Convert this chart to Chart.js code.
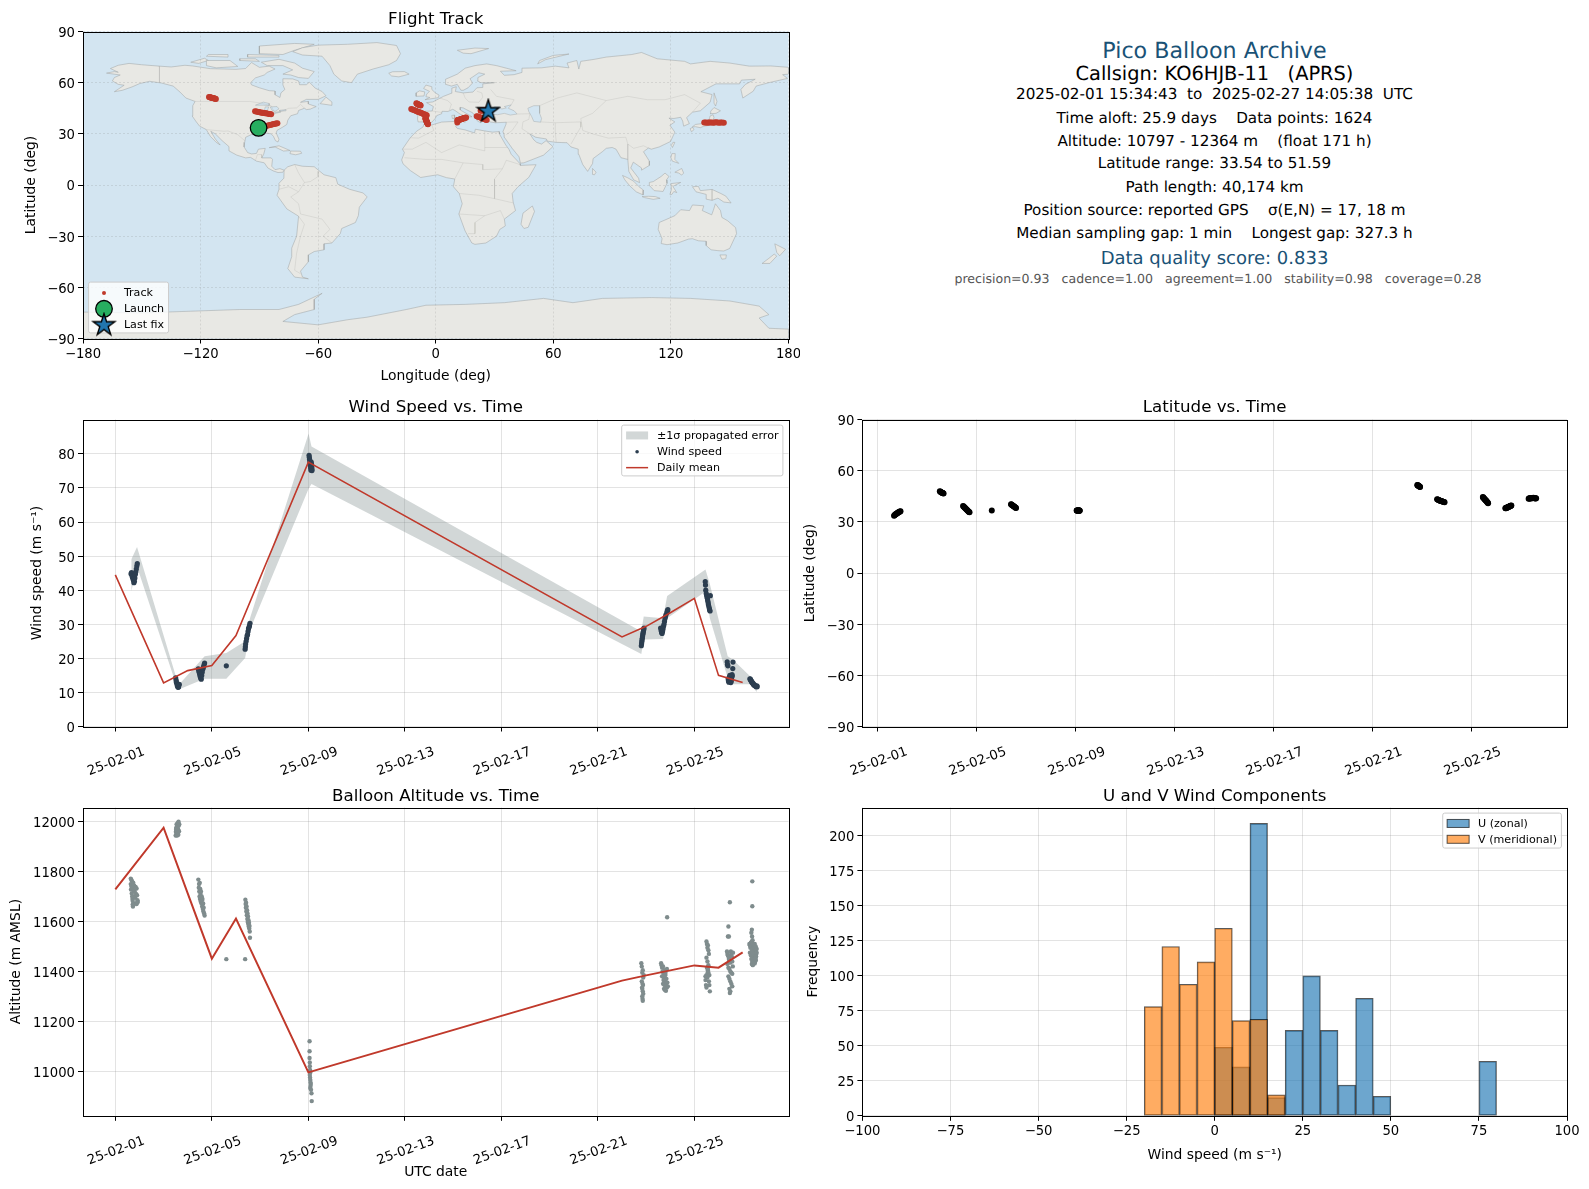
<!DOCTYPE html>
<html>
<head>
<meta charset="utf-8">
<title>Pico Balloon Archive</title>
<script src="https://cdn.jsdelivr.net/npm/chart.js@4/dist/chart.umd.js"></script>
<style>
  html, body { margin: 0; padding: 0; background: #fff; }
  #page { position: relative; width: 1589px; height: 1189px; overflow: hidden; font-family: 'DejaVu Sans', sans-serif; text-rendering: geometricPrecision; }
  canvas { position: absolute; }
  .info { position: absolute; width: 800px; text-align: center; white-space: pre; transform: translateY(-50%); }
</style>
</head>
<body>
<div id="page">
  <canvas id="trackChart" width="800" height="388" style="left:0;top:0"></canvas>
  <canvas id="windChart" width="800" height="388" style="left:0;top:388px"></canvas>
  <canvas id="latChart" width="789" height="388" style="left:800px;top:388px"></canvas>
  <canvas id="altChart" width="800" height="413" style="left:0;top:776px"></canvas>
  <canvas id="histChart" width="789" height="413" style="left:800px;top:776px"></canvas>
</div>
<script>
// summary panel
const infoLines = [
  'Pico Balloon Archive',
  'Callsign: KO6HJB-11   (APRS)',
  '2025-02-01 15:34:43  to  2025-02-27 14:05:38  UTC',
  'Time aloft: 25.9 days    Data points: 1624',
  'Altitude: 10797 - 12364 m    (float 171 h)',
  'Latitude range: 33.54 to 51.59',
  'Path length: 40,174 km',
  'Position source: reported GPS    σ(E,N) = 17, 18 m',
  'Median sampling gap: 1 min    Longest gap: 327.3 h',
  'Data quality score: 0.833',
  'precision=0.93   cadence=1.00   agreement=1.00   stability=0.98   coverage=0.28',
];
const infoY = [50.7, 73, 94.2, 117.6, 140.9, 163.2, 186.5, 209.8, 233, 258.2, 277.7];
const infoSize = [22.2, 19.4, 15.2, 15.2, 15.2, 15.2, 15.2, 15.2, 15.2, 18, 12.57];
const infoColor = ['#1a5276', '#000', '#000', '#000', '#000', '#000', '#000', '#000', '#000', '#1a5276', '#555'];
const infoLeft = [814.5, 814.5, 814.5, 814.5, 814.5, 814.5, 814.5, 814.5, 814.5, 814.5, 818];

// time axis, days since 2025-02-01 00:00 UTC
const dateTicks = [0, 4, 8, 12, 16, 20, 24];
const dateLabels = ['25-02-01', '25-02-05', '25-02-09', '25-02-13', '25-02-17', '25-02-21', '25-02-25'];

// observations, one line per burst of reports
const obsDays = [
  0.65, 0.67, 0.69, 0.71, 0.73, 0.75, 0.77, 0.79, 0.81, 0.83, 0.85, 0.87, 0.89, 0.91,
  2.50, 2.52, 2.53, 2.55, 2.57, 2.58, 2.60, 2.62, 2.63, 2.65,
  3.44, 3.46, 3.48, 3.50, 3.52, 3.54, 3.56, 3.58, 3.60, 3.62, 3.64, 3.66, 3.68, 3.70,
  4.60,
  5.38, 5.39, 5.40, 5.42, 5.44, 5.46, 5.48, 5.50, 5.52, 5.54, 5.56, 5.58,
  8.03, 8.04, 8.05, 8.06, 8.07, 8.08, 8.09, 8.10, 8.11, 8.12, 8.13, 8.14, 8.15, 8.15,
  21.80, 21.81, 21.82, 21.83, 21.84, 21.85, 21.86, 21.87, 21.88, 21.89, 21.90, 21.91,
  22.60, 22.62, 22.64, 22.66, 22.68, 22.70, 22.72, 22.74, 22.76, 22.78, 22.80, 22.82, 22.86, 22.88, 22.90,
  24.45, 24.46, 24.47, 24.49, 24.51, 24.52, 24.54, 24.55, 24.57, 24.58, 24.60, 24.62, 24.63, 24.65, 24.66,
  25.36, 25.37, 25.39, 25.40, 25.41, 25.43, 25.44, 25.45, 25.47, 25.48, 25.50, 25.51, 25.53, 25.54, 25.56, 25.57, 25.59, 25.60,
  26.30, 26.32, 26.33, 26.35, 26.37, 26.38, 26.40, 26.42, 26.44, 26.45, 26.47, 26.49, 26.51, 26.53, 26.55, 26.57, 26.59, 26.60,
];
const obsWind = [
  44.8, 45.2, 44.3, 43.8, 43.4, 42.9, 42.2, 42.6, 43.6, 44.7, 45.4, 46.2, 47.1, 47.8,
  14.3, 13.6, 13.0, 12.6, 12.1, 11.8, 11.5, 11.6, 12.0, 12.4,
  16.9, 16.3, 15.8, 15.2, 14.6, 14.2, 13.9, 15.0, 15.9, 16.7, 17.2, 17.6, 18.2, 18.6,
  17.8,
  22.7, 23.4, 24.2, 25.0, 25.8, 26.6, 27.0, 27.9, 28.7, 29.1, 29.6, 30.3,
  79.6, 79.0, 78.4, 78.0, 77.4, 76.9, 76.4, 75.8, 75.2, 77.6, 77.0, 76.2, 75.6, 75.1,
  23.7, 24.3, 24.9, 25.4, 25.9, 26.4, 26.9, 27.3, 27.7, 28.1, 28.5, 28.9,
  28.9, 28.2, 27.6, 27.3, 27.9, 28.6, 29.4, 30.0, 30.8, 31.6, 32.2, 32.8, 33.4, 34.0, 34.3,
  42.5, 41.5, 40.0, 39.0, 38.5, 38.0, 37.6, 37.0, 36.4, 35.8, 35.2, 34.6, 34.2, 33.9, 38.4,
  19.0, 18.2, 17.8, 14.0, 13.4, 13.0, 13.2, 14.5, 15.0, 13.6, 13.1, 12.9, 13.4, 14.2, 15.2, 14.8, 17.0, 18.9,
  14.0, 13.9, 13.6, 13.5, 13.2, 13.0, 12.9, 12.7, 12.5, 12.4, 12.2, 12.1, 12.0, 11.9, 11.8, 11.7, 11.9, 11.7,
];
const obsLat = [
  33.6, 33.9, 34.1, 34.4, 34.6, 34.8, 35.0, 35.2, 35.4, 35.6, 35.7, 35.9, 36.0, 36.2,
  47.9, 47.7, 47.6, 47.4, 47.2, 47.1, 47.0, 46.9, 46.8, 46.6,
  39.3, 39.0, 38.7, 38.4, 38.1, 37.8, 37.5, 37.2, 36.9, 36.6, 36.3, 36.0, 35.8, 35.6,
  36.7,
  40.3, 40.2, 40.0, 39.8, 39.6, 39.4, 39.2, 39.0, 38.8, 38.5, 38.3, 38.1,
  36.6, 36.7, 36.5, 36.6, 36.7, 36.6, 36.5, 36.6, 36.8, 36.6, 36.5, 36.7, 36.6, 36.5,
  51.6, 51.5, 51.4, 51.3, 51.2, 51.1, 51.0, 50.9, 50.8, 50.7, 50.6, 50.4,
  43.2, 43.1, 42.9, 42.8, 42.7, 42.5, 42.4, 42.3, 42.2, 42.1, 42.0, 41.9, 41.7, 41.6, 41.5,
  44.6, 44.3, 44.1, 43.8, 43.5, 43.3, 43.0, 42.8, 42.5, 42.3, 42.0, 41.7, 41.5, 41.2, 40.9,
  38.0, 38.1, 38.0, 38.2, 38.3, 38.3, 38.5, 38.6, 38.6, 38.8, 38.9, 38.9, 39.1, 39.2, 39.3, 39.4, 39.5, 39.6,
  43.6, 43.7, 43.8, 43.7, 43.8, 43.9, 43.8, 43.9, 44.0, 43.9, 44.0, 44.1, 44.0, 43.9, 43.8, 43.9, 43.7, 43.8,
];
const obsLon = [
  -90.0, -89.2, -88.4, -87.6, -86.8, -86.0, -85.2, -84.6, -83.9, -83.2, -82.6, -82.0, -81.4, -80.8,
  -9.9, -9.6, -9.4, -9.2, -8.9, -8.7, -8.4, -8.2, -8.0, -7.7,
  -5.3, -5.2, -5.2, -5.0, -4.9, -4.9, -4.7, -4.6, -4.6, -4.4, -4.3, -4.2, -4.1, -4.0,
  11.0,
  20.9, 21.3, 21.8, 22.2, 22.7, 23.2, 23.6, 24.1, 24.6, 25.0, 25.5, 26.0,
  137.0, 137.8, 138.5, 139.3, 140.0, 140.8, 141.6, 142.3, 143.0, 143.8, 144.6, 145.3, 146.1, 147.0,
  -115.7, -115.4, -115.1, -114.8, -114.5, -114.2, -113.9, -113.5, -113.2, -112.8, -112.5, -112.2,
  -92.2, -91.6, -91.0, -90.4, -89.9, -89.3, -88.7, -88.2, -87.7, -87.1, -86.6, -86.0, -85.2, -84.6, -84.0,
  -12.5, -12.0, -11.4, -10.8, -10.2, -9.7, -9.2, -8.6, -8.1, -7.6, -7.0, -6.4, -5.9, -5.2, -4.6,
  11.0, 11.2, 11.5, 11.8, 12.0, 12.3, 12.5, 12.8, 13.0, 13.3, 13.5, 13.8, 14.1, 14.3, 14.6, 14.9, 15.2, 15.5,
  22.9, 23.1, 23.4, 23.6, 23.8, 24.0, 24.3, 24.5, 24.7, 25.0, 25.2, 25.4, 25.6, 25.8, 26.1, 26.3, 26.6, 27.0,
];

// altitude reports, one inner list per burst
const altDays = [
  [0.64, 0.64, 0.65, 0.66, 0.67, 0.68, 0.69, 0.70, 0.71, 0.72, 0.73, 0.74, 0.75, 0.76, 0.77, 0.78, 0.80, 0.82, 0.84, 0.86, 0.88, 0.90, 0.92, 0.93, 0.70, 0.72, 0.88, 0.90],
  [2.50, 2.51, 2.52, 2.53, 2.54, 2.55, 2.56, 2.57, 2.58, 2.59, 2.60, 2.61, 2.62, 2.63, 2.64, 2.65, 2.52, 2.58],
  [3.44, 3.46, 3.47, 3.48, 3.49, 3.50, 3.51, 3.52, 3.53, 3.54, 3.55, 3.56, 3.57, 3.58, 3.59, 3.60, 3.61, 3.62, 3.63, 3.64, 3.65, 3.66, 3.68, 3.70],
  [4.60],
  [5.38, 5.39, 5.40, 5.41, 5.42, 5.43, 5.44, 5.45, 5.46, 5.47, 5.48, 5.49, 5.50, 5.51, 5.52, 5.53, 5.54, 5.55, 5.56, 5.57, 5.58],
  [8.05, 8.05, 8.05, 8.06, 8.06, 8.07, 8.08, 8.06, 8.07, 8.08, 8.09, 8.10, 8.09, 8.08, 8.11, 8.13, 8.14],
  [21.80, 21.82, 21.84, 21.86, 21.88, 21.90, 21.82, 21.85, 21.87, 21.83, 21.86, 21.88, 21.84, 21.85, 21.86, 21.84],
  [22.62, 22.64, 22.66, 22.68, 22.70, 22.72, 22.74, 22.76, 22.78, 22.80, 22.82, 22.84, 22.86, 22.88, 22.90, 22.66, 22.70, 22.74, 22.78, 22.82, 22.86, 22.72, 22.76, 22.80, 22.87],
  [24.50, 24.52, 24.54, 24.56, 24.58, 24.60, 24.50, 24.54, 24.58, 24.52, 24.56, 24.55, 24.50, 24.54, 24.58, 24.46, 24.48, 24.50, 24.62, 24.64, 24.60, 24.56, 24.62, 24.46],
  [25.41, 25.39, 25.43, 25.47, 25.35, 25.37, 25.39, 25.41, 25.43, 25.45, 25.47, 25.49, 25.51, 25.53, 25.55, 25.57, 25.59, 25.37, 25.41, 25.45, 25.49, 25.53, 25.57, 25.41, 25.45, 25.49, 25.53, 25.57, 25.45, 25.49, 25.47, 25.60],
  [26.40, 26.40, 26.38, 26.36, 26.39, 26.41, 26.28, 26.30, 26.32, 26.34, 26.36, 26.38, 26.40, 26.42, 26.44, 26.46, 26.48, 26.50, 26.52, 26.54, 26.56, 26.58, 26.30, 26.34, 26.38, 26.42, 26.46, 26.50, 26.54, 26.58, 26.36, 26.40, 26.44, 26.48, 26.52, 26.56, 26.38, 26.42, 26.46, 26.50, 26.54],
];
const altValues = [
  [11772, 11750, 11728, 11768, 11741, 11712, 11762, 11735, 11690, 11668, 11660, 11756, 11725, 11700, 11672, 11745, 11720, 11695, 11738, 11710, 11732, 11705, 11685, 11678, 11700, 11682, 11670, 11675],
  [11945, 11960, 11975, 11950, 11990, 11965, 11945, 11980, 11955, 11995, 11970, 11948, 12000, 11985, 11962, 11990, 11968, 11975],
  [11768, 11735, 11750, 11720, 11700, 11755, 11690, 11730, 11710, 11680, 11720, 11695, 11672, 11700, 11685, 11660, 11690, 11670, 11650, 11672, 11640, 11655, 11632, 11624],
  [11449],
  [11449, 11687, 11670, 11655, 11675, 11640, 11660, 11625, 11645, 11610, 11632, 11598, 11620, 11590, 11605, 11580, 11595, 11572, 11582, 11560, 11535],
  [11120, 11080, 11053, 11035, 11020, 11005, 10995, 10985, 10975, 10965, 10955, 10948, 10940, 10932, 10925, 10911, 10880],
  [11433, 11420, 11395, 11405, 11375, 11385, 11360, 11350, 11345, 11335, 11320, 11310, 11330, 11290, 11282, 11300],
  [11433, 11425, 11415, 11400, 11420, 11390, 11375, 11405, 11360, 11385, 11345, 11370, 11335, 11355, 11340, 11380, 11350, 11330, 11325, 11322, 11410, 11365, 11345, 11395, 11617],
  [11520, 11510, 11495, 11505, 11485, 11470, 11455, 11440, 11425, 11415, 11405, 11395, 11385, 11375, 11395, 11365, 11345, 11335, 11345, 11320, 11360, 11410, 11385, 11380],
  [11580, 11540, 11540, 11677, 11480, 11470, 11465, 11460, 11450, 11445, 11440, 11435, 11480, 11470, 11460, 11440, 11420, 11430, 11415, 11410, 11400, 11395, 11390, 11380, 11370, 11360, 11350, 11340, 11330, 11320, 11313, 11475],
  [11761, 11661, 11567, 11555, 11540, 11525, 11510, 11505, 11495, 11515, 11500, 11520, 11490, 11510, 11480, 11505, 11495, 11510, 11485, 11500, 11470, 11490, 11475, 11465, 11480, 11455, 11470, 11460, 11445, 11475, 11450, 11440, 11435, 11450, 11440, 11460, 11430, 11425, 11440, 11432, 11450],
];

const launchPoint = [-90.4, 33.5];
const lastFixPoint = [26.8, 43.6];

// daily means
const dailyDays = [0, 2, 3, 4, 5, 8, 21, 22, 23, 24, 25, 26];
const dailyWind = [44.5, 12.8, 16.4, 17.9, 26.7, 77.6, 26.3, 29.4, 33.4, 37.6, 15.0, 12.9];
const dailyAlt = [11729, 11976, 11713, 11451, 11612, 10995, 11363, 11384, 11404, 11424, 11415, 11476];

// +-1 sigma envelope of the wind speed
const bandDays = [0.66, 0.9, 2.5, 2.65, 3.7, 4.6, 5.38, 5.58, 8.01, 8.13, 21.8, 21.9, 22.7, 22.87, 24.46, 24.64, 25.38, 25.6, 26.3, 26.59];
const bandHigh = [49.0, 52.7, 15.0, 12.4, 20.6, 21.6, 25.0, 31.8, 86.0, 82.2, 27.9, 32.3, 31.8, 38.3, 46.1, 41.8, 20.6, 19.6, 14.8, 12.8];
const bandLow = [39.6, 46.9, 12.8, 10.9, 14.0, 14.0, 20.1, 28.4, 69.8, 71.2, 21.3, 25.5, 25.7, 31.8, 39.6, 31.8, 14.3, 12.4, 12.4, 10.1];

// histogram, left bin edges of width 5
const histEdges = [-20, -15, -10, -5, 0, 5, 10, 15, 20, 25, 30, 35, 40, 45, 50, 55, 60, 65, 70, 75];
const histU = [0, 0, 0, 0, 49, 35, 209, 13, 61, 100, 61, 22, 84, 14, 0, 0, 0, 0, 0, 39];
const histV = [78, 121, 94, 110, 134, 68, 69, 15, 0, 0, 0, 0, 0, 0, 0, 0, 0, 0, 0, 0];

// tick values
const lonTicks = [-180, -120, -60, 0, 60, 120, 180];
const latTicks = [-90, -60, -30, 0, 30, 60, 90];
const windTicks = [0, 10, 20, 30, 40, 50, 60, 70, 80];
const altTicks = [11000, 11200, 11400, 11600, 11800, 12000];
const histXTicks = [-100, -75, -50, -25, 0, 25, 50, 75, 100];
const histYTicks = [0, 25, 50, 75, 100, 125, 150, 175, 200];

// world outline, lon/lat
const landPolygons = [
  // North America
  [[-168,65.6],[-164,66.5],[-162,66.1],[-166,68.3],[-162,70.2],[-156.5,71.3],[-150,70.5],[-141,69.7],[-135,69.2],[-128,70.2],[-124,69.8],[-115,68.2],[-108,68],[-102,67.8],[-97,68.3],[-94,71.8],[-90,69],[-85,69.7],[-82,68],[-86,66],[-87.5,64.5],[-92,62.8],[-94.5,60],[-94,58.7],[-90,57],[-85,55.3],[-82,55.1],[-82,52.9],[-79.5,51.3],[-79,54],[-77,56],[-78,58.7],[-78,62.3],[-73,62.2],[-70,61],[-69.5,58.8],[-66,58.8],[-64.5,60.3],[-61.5,56.8],[-58,54.8],[-56,52.3],[-60,50.2],[-66,50.2],[-69,48.5],[-65,49],[-65,47.5],[-61,46],[-64,44.5],[-66,44.2],[-67,45],[-70,43.7],[-70.5,41.8],[-74,40.6],[-75.5,38],[-76,35.5],[-78,34],[-81,32],[-81.4,30.5],[-80,26.8],[-80.5,25.2],[-81.8,26],[-82.8,28.5],[-84,30],[-86,30.4],[-89,30.2],[-90,29.2],[-94,29.6],[-97,28],[-97.5,25],[-97.8,22.3],[-96,19],[-94,18.2],[-91.5,18.5],[-90.5,21],[-87,21.5],[-87.8,18],[-88.8,15.9],[-84,15.9],[-83.3,15],[-83.7,11],[-82,9],[-79.5,9.6],[-77.4,8.7],[-78,7.5],[-80.5,7.3],[-83,8.3],[-85.7,10],[-87.5,13],[-91.5,14],[-94.5,16.2],[-97,15.9],[-101.5,17.5],[-105.5,20],[-105.5,22.5],[-109,26],[-112.5,30],[-114.8,31.5],[-112.5,27],[-110,23.5],[-112,25],[-115,28.5],[-117.1,32.5],[-120.5,34.5],[-122.5,37.5],[-124.3,40.5],[-124,46.5],[-122.8,49],[-127.5,51],[-130.5,54.5],[-134,58],[-140,59.8],[-146,60.8],[-151,59.5],[-155,57.5],[-160,55.5],[-164,54.7],[-159,58.5],[-162,59],[-165,61],[-164,63],[-161,64.5],[-168,65.6]],
  // Greenland
  [[-73,78.2],[-68,80.5],[-60,82],[-45,82.5],[-30,83.5],[-20,81.8],[-18,77],[-20,73],[-24,70.5],[-32,68],[-40,65],[-43,60],[-48,61],[-52,65],[-54,70],[-58,75.5],[-68,76.2],[-73,78.2]],
  // Canadian Arctic
  [[-80,73.7],[-72,71.5],[-68,68.5],[-62,66.5],[-65,62.5],[-70,63],[-74,64.5],[-78,65],[-73,67.5],[-78,70],[-86,70],[-89,72],[-80,73.7]],
  [[-117,73],[-105,73],[-101,69.5],[-112,68.7],[-117,70],[-117,73]],
  [[-90,77],[-78,76.5],[-72,79],[-62,82.5],[-72,83],[-90,81.5],[-90,77]],
  [[-125,72],[-118,74.3],[-116,73],[-121,71.3],[-125,72]],
  [[-96,75],[-80,75],[-80,76],[-96,76.5],[-96,75]],
  [[-117,75.5],[-106,75],[-106,76.5],[-116,76.5],[-117,75.5]],
  [[-100,73],[-90,72.5],[-92,74],[-100,74],[-100,73]],
  [[-59,47.7],[-53,46.7],[-53,48.7],[-56,51.5],[-59,47.7]],
  // Caribbean
  [[-85,21.9],[-80,23],[-74.3,20.2],[-77.7,19.9],[-82,22.3],[-85,21.9]],
  [[-74.4,18.4],[-74,19.9],[-69,19.8],[-68.4,18.6],[-71.5,17.7],[-74.4,18.4]],
  // South America
  [[-77.4,8.7],[-75.5,10.7],[-72,12],[-68,11],[-62,10.7],[-57,6],[-51,4.3],[-50,0.5],[-44,-2.5],[-37,-4.7],[-35,-7],[-39,-13],[-39.5,-18],[-41,-22],[-48,-25.5],[-48.7,-28.5],[-53,-34],[-57,-34.5],[-57,-38],[-62,-39],[-65,-41],[-65,-45],[-69,-50.5],[-68,-54],[-65,-55],[-72,-54],[-75.5,-49],[-73.5,-42],[-73.5,-37],[-71,-30],[-70,-18.3],[-76,-14],[-81,-6],[-80,-2.5],[-80,1],[-77.5,4],[-77.4,8.7]],
  // North Atlantic islands
  [[-24,65.5],[-22,66.4],[-16,66.5],[-13.6,65],[-18.8,63.4],[-22.5,63.9],[-24,65.5]],
  [[-5.5,50],[1.3,51.2],[1.7,52.7],[-0.2,54],[-2,56],[-2,57.6],[-5,58.6],[-6.2,56.6],[-3.2,54.9],[-4.6,53.3],[-5,51.8],[-3,51.3],[-5.5,50]],
  [[-10,52],[-6,52.2],[-5.6,54.6],[-8.3,55.2],[-10,54],[-10,52]],
  [[11,79],[20,80.3],[27,80],[18,77],[14,77.3],[11,79]],
  [[52,71],[56,73.5],[68,76.8],[60,76],[53,73],[52,71]],
  // Eurasia
  [[-9.3,38.7],[-9,43],[-1.8,43.4],[-1.2,46],[-4.7,48.3],[-1.5,48.7],[1.5,50.5],[4,52],[8,53.8],[8.2,56.8],[10.5,57.6],[10,54.8],[14,54],[19,54.5],[21,57],[24,57.2],[24,59.3],[30,60],[23,60],[21.3,61],[21.5,63],[25,65],[22,65.8],[17.5,62.3],[18.8,59.8],[16.5,57],[14,55.5],[12.8,55.6],[11,59],[8,58],[5.2,59],[5,62],[11,65],[15,68.5],[20,70],[26,71],[31,70],[41,67],[33,66.7],[35,64.3],[40,64.7],[44,66],[44,68.5],[54,68.7],[61,69.7],[68,68.7],[67,71.5],[72,73],[73,68],[74,72.5],[81,73.7],[87,75],[100,76.5],[105,77.7],[113,74],[127,72.5],[130,71],[140,72.5],[150,71.5],[160,69.7],[171,69.8],[180,69],[180,65],[177,64.7],[179.5,62.5],[170,60],[163.5,58],[162,55],[156.7,51],[155.7,56],[158,59],[163,62],[156,61.5],[155,59.3],[143,59.3],[135.3,54.7],[141,53],[140,48.5],[135,43.5],[131,42.7],[128,39.5],[129.4,36],[126.5,34.5],[126,37.5],[125,39.7],[121.5,39],[119,39.2],[122,37],[119.5,35],[122,31],[119.8,25.5],[114,22.3],[110,21],[108.5,21.7],[106,19.5],[109,14],[109,11.5],[105,8.7],[105,10],[100.8,13.4],[99.5,10],[103.5,4],[104,1.4],[101,3],[98.5,8],[98,15],[94.5,16],[92,21],[90,22],[87,21.5],[85,19.5],[80.3,15.5],[80,12.5],[77.5,8],[75,12],[73,18],[72.7,21],[69,22.3],[67,24.8],[61.5,25],[57,25.7],[56.4,27],[51,28],[48,30],[50,26.5],[51.5,25],[54,24],[56.3,26],[59.8,22.5],[55,17.5],[45,13],[43.2,12.8],[42.5,16.5],[39,21.5],[35,28],[34.9,29.5],[34.3,31.3],[35.8,35.5],[36,36.8],[30.5,36.5],[27.5,37],[26.3,39.5],[26,40.8],[23,40.5],[24,38],[23,36.5],[21.3,37.5],[19.5,41],[19,42.2],[14,45.2],[12.5,45.5],[12.5,44],[16,41.7],[18.5,40],[16.7,40],[15.8,38],[15.5,40],[12.5,41.5],[10.3,43.3],[8.7,44.4],[6.2,43.1],[3.2,43.2],[3,41.8],[0.5,40.7],[-0.3,39],[-2,36.8],[-5.4,36],[-6.8,37],[-9,37],[-9.3,38.7]],
  // Africa
  [[-5.9,35.8],[-2,35.2],[3,36.9],[10,37.3],[11,36.9],[10.2,34.3],[11,33.2],[15,32.3],[19.8,30.5],[20.2,32.7],[25,31.7],[29,31],[32.3,31.3],[32.5,29.9],[35.7,23.5],[37.3,21],[38.5,18],[43,12.5],[43.2,11.5],[51.2,11.9],[47.5,4.5],[42,-1],[39,-5],[39.5,-10],[40.7,-15],[35,-20],[35.5,-24],[32.7,-26],[31,-30],[25.6,-34],[20,-34.8],[18.4,-34],[15,-27],[11.8,-17],[13.5,-11],[12,-5],[9,-1],[9.7,3.5],[5.5,4.3],[1,6],[-4,5.1],[-7.7,4.4],[-13,8.5],[-16.7,12.4],[-17.4,14.7],[-16,19],[-17,21],[-13,27.7],[-9.8,31.5],[-6.5,34],[-5.9,35.8]],
  [[49.3,-12.3],[50.4,-15.5],[47.2,-24.8],[45,-25.5],[43.5,-23],[44.5,-16.5],[49.3,-12.3]],
  // Mediterranean islands
  [[12.5,38],[15.5,38.2],[15,36.7],[12.5,38]],
  [[8.2,40.8],[9.7,41],[9.5,39],[8.5,39],[8.2,40.8]],
  // Asia-Pacific islands
  [[80,9.7],[81.8,7.5],[81,6],[80,6.2],[80,9.7]],
  [[130.9,34],[132.5,35.5],[136,36],[139.5,38.3],[140,40.5],[141.5,41.2],[142,39.5],[140.8,36],[140,35],[136.8,34.5],[135,33.6],[132.5,34.2],[130.9,34]],
  [[140,41.8],[140.3,43.3],[142,45.4],[145.3,43.5],[143,42],[140,41.8]],
  [[129.8,33],[131,33.8],[131.8,32.5],[130.5,31.2],[129.8,33]],
  [[142,54],[143.5,49],[142.8,46.3],[142,48],[142,54]],
  [[121,25],[122,25],[120.8,22],[120.2,23.2],[121,25]],
  [[120.5,18.4],[122.2,18.4],[122,15],[124,12.7],[120.7,14],[120,16],[120.5,18.4]],
  [[122,7.5],[125.5,9.7],[126.5,7],[125.5,5.8],[124,7],[122,7.5]],
  [[109,1.5],[111,2],[115,5],[117,7],[119,5],[117.7,3],[118,1],[116,-3.8],[111.5,-3.3],[109.2,-0.5],[109,1.5]],
  [[95.3,5.6],[98,4.2],[101,2.2],[103.7,-1],[106,-3],[105.8,-5.8],[102.3,-4],[99,-0.5],[96.5,3],[95.3,5.6]],
  [[105.3,-6.8],[108.5,-6.6],[112,-6.8],[114.5,-7.8],[111,-8.4],[106.5,-7.4],[105.3,-6.8]],
  [[119.5,-5.5],[120.3,-2.5],[120,0.8],[125,1.5],[121,-0.8],[123,-4.5],[121.5,-3.8],[120.5,-5.5],[119.5,-5.5]],
  [[131,-1],[134,-0.8],[135,-3.3],[141,-2.6],[145.5,-5],[148,-6.5],[150.7,-10.5],[147,-10],[144,-7.7],[141,-9],[138,-8.3],[138,-5.5],[132.8,-4],[131,-1]],
  // Australia and New Zealand
  [[114,-22],[113.5,-26],[115.5,-31.5],[115,-34.3],[118,-35],[123.5,-34],[129,-31.7],[131,-31.5],[134,-32.7],[138,-33],[138,-35.5],[140.5,-38],[144,-38.5],[147,-38.7],[150,-37.2],[151.5,-33.5],[153.5,-28.5],[153,-25],[149,-21],[146,-19],[145.3,-15],[142.7,-11],[141.6,-15],[140.8,-17.5],[136,-15],[136.8,-12.2],[131,-11.7],[129.5,-15],[125,-14.5],[122,-18],[117,-20.5],[114,-22]],
  [[145,-41],[148.3,-41],[148,-43.2],[146,-43.5],[145,-41]],
  [[173,-34.5],[178.5,-37.7],[175.5,-41.5],[174,-39.5],[173,-34.5]],
  [[172.7,-40.5],[174,-41.7],[170.5,-46],[166.5,-46],[170,-43],[172.7,-40.5]],
  // Antarctica
  [[-180,-74.5],[-150,-75],[-125,-74],[-100,-73],[-80,-73],[-70,-70],[-58,-63.5],[-62,-67],[-62,-73],[-72,-76],[-78,-80],[-60,-82],[-45,-79],[-35,-77.5],[-15,-73],[-5,-70.5],[15,-70],[35,-69],[55,-66.5],[70,-69],[85,-66.5],[110,-66],[130,-66.5],[150,-68],[165,-71],[170,-76],[165,-78],[170,-84],[180,-84.5],[180,-90],[-180,-90],[-180,-74.5]],
];
const waterPolygons = [
  // Black Sea, Caspian, Great Lakes
  [[28,43],[28.5,41.5],[31.5,41.2],[35,42],[38,41],[41.5,41.6],[40,43.5],[37,45],[38.5,47],[35,46],[36,45.2],[33.5,44.5],[32.5,46],[30,46],[28,43]],
  [[47,45],[50,46.5],[53,46.5],[53,42],[54,39],[53.5,36.8],[50,37.3],[49,40],[47.5,43],[47,45]],
  [[-92,46.8],[-88,48.6],[-85,47.8],[-85,46.6],[-88,46.8],[-92,46.8]],
  [[-87.8,42],[-86.5,42],[-85.2,45.8],[-87,45.8],[-87.8,42]],
  [[-84.5,45.8],[-81,46],[-80,44.6],[-82,43.2],[-83.5,43.8],[-84.5,45.8]],
  [[-83.3,41.6],[-79,42.8],[-79.2,43],[-83,42.2],[-83.3,41.6]],
  [[-79.7,43.3],[-76.4,43.5],[-76.4,44.2],[-79.5,43.8],[-79.7,43.3]],
];
const borderLines = [
  [[-141,69.7],[-141,60.3]],
  [[-122.8,49],[-95,49],[-89,48],[-84,46.5],[-82.5,43],[-79,43],[-75,45],[-71,45.2],[-69,47.3],[-67,45]],
  [[-117.1,32.5],[-108,31.5],[-106,31.7],[-101,29.5],[-97.5,26]],
  [[-92,14.5],[-91,17.8],[-89,17.9],[-88.8,15.9]],
  [[-72,12],[-70,7],[-67,1.5],[-70,-4],[-74,-7],[-70,-11],[-69,-17],[-58,-20],[-54,-26],[-57.5,-30],[-53,-34]],
  [[-60,8],[-60,5],[-64,2],[-67,1.5]],
  [[-70,-18.3],[-67,-23],[-69,-30],[-71,-40],[-72,-50],[-69,-52]],
  [[-80,-2.5],[-75,-1],[-70,-4]],
  [[-1.8,43.4],[3.2,42.5]],
  [[-9,42],[-6.5,42],[-7,37]],
  [[2,51],[6,49.5],[8,47.5],[7,44]],
  [[14,54],[15,51],[17,48.7],[22,48.5],[24,51.5],[23.5,54],[21,55]],
  [[28,56],[31,52],[40,50],[38.5,47]],
  [[41.5,41.6],[48,41.8],[47.5,38.5],[44.5,37],[44,33],[48,30]],
  [[36,36.8],[42,37],[39,32],[36,29.5]],
  [[61.5,25],[61,31],[61,36.5],[53.5,37]],
  [[53,46.5],[62,51],[72,54],[87,49.5],[98,52],[108,50],[117,50],[127,53],[135,48],[131,42.7]],
  [[87,49.5],[80,42],[74,39],[75,32],[80,30],[88,27.5],[97,28],[98,24],[101,21.5],[106,23],[108.5,21.7]],
  [[61,36.5],[74,37],[74,34],[71,28],[69,24]],
  [[98,24],[98,15]],
  [[-13,27.7],[-8.7,27.5],[-1,32],[-2,35]],
  [[-17,21],[-12,21],[-5,25],[3,19],[12,23.5],[25,20],[25,31.7]],
  [[25,22],[36.5,22]],
  [[-16,16],[-5,15],[3,15],[14,13],[24,12],[24,9],[34,9.5],[36,14.5],[43,12]],
  [[9.7,3.5],[14,13]],
  [[12,-5],[22,-6],[30,-8],[39.5,-10.5]],
  [[34,9.5],[30,3.5],[30,-8]],
  [[11.8,-17],[25,-18],[33,-15],[35,-20]],
  [[20,-22],[20,-28.5],[16.5,-28.5]],
  [[25,-18],[20,-22]],
  [[141,-2.6],[141,-9]],
];

Chart.defaults.font.family = "'DejaVu Sans', sans-serif";
Chart.defaults.font.size = 13.2;
Chart.defaults.color = '#000';

const GRID_COLOR = 'rgba(128,128,128,0.22)';
const MAP_GRID_COLOR = 'rgba(128,128,128,0.2)';
const OCEAN = '#d3e5f1';
const LAND = '#e8e8e4';

function starPath(ctx, x, y, outer) {
  ctx.beginPath();
  for (let i = 0; i < 10; i++) {
    const r = i % 2 ? outer * 0.382 : outer;
    const a = -Math.PI / 2 + i * Math.PI / 5;
    ctx.lineTo(x + r * Math.cos(a), y + r * Math.sin(a));
  }
  ctx.closePath();
}

function makeStar() {
  const c = document.createElement('canvas');
  c.width = 26;
  c.height = 26;
  const g = c.getContext('2d');
  starPath(g, 13, 13.5, 11.5);
  g.fillStyle = '#2176ae';
  g.fill();
  g.lineWidth = 1.4;
  g.strokeStyle = '#000';
  g.stroke();
  return c;
}
const starImage = makeStar();

// axes frame on all four sides, plus optional plot background
function framePlugin(background) {
  return {
    id: 'frame',
    beforeDatasetsDraw(chart) {
      if (!background) return;
      const a = chart.chartArea;
      chart.ctx.fillStyle = background;
      chart.ctx.fillRect(a.left, a.top, a.right - a.left, a.bottom - a.top);
    },
    afterDraw(chart) {
      const a = chart.chartArea, ctx = chart.ctx;
      ctx.save();
      ctx.strokeStyle = '#000';
      ctx.lineWidth = 1;
      ctx.strokeRect(Math.round(a.left) + 0.5, Math.round(a.top) + 0.5, Math.round(a.right - a.left), Math.round(a.bottom - a.top));
      ctx.restore();
    }
  };
}

// boxed legend inside the axes
function legendPlugin(items, corner) {
  return {
    id: 'boxLegend',
    afterDraw(chart) {
      const ctx = chart.ctx, a = chart.chartArea;
      const em = 11.11, pad = 4.4, handle = 22, gap = 8.9, row = 10.3, rowGap = 5.55, margin = 5.6, drop = 1.3;
      ctx.save();
      ctx.font = em + "px 'DejaVu Sans'";
      const textW = Math.max(...items.map(it => ctx.measureText(it.label).width));
      const w = pad * 2 + handle + gap + textW;
      const h = pad * 2 + items.length * row + (items.length - 1) * rowGap;
      const x = corner === 'll' ? a.left + margin : a.right - margin - w;
      const y = corner === 'll' ? a.bottom - margin - h : a.top + margin;
      ctx.beginPath();
      ctx.roundRect(x, y, w, h, 2);
      ctx.fillStyle = 'rgba(255,255,255,0.8)';
      ctx.fill();
      ctx.strokeStyle = '#ccc';
      ctx.lineWidth = 1;
      ctx.stroke();
      items.forEach((it, i) => {
        const cy = y + pad + row / 2 + i * (row + rowGap) + drop;
        const hx = x + pad, mid = hx + handle / 2;
        if (it.kind === 'rect') {
          ctx.fillStyle = it.color;
          ctx.fillRect(hx, cy - 4.5, handle, 8);
          if (it.edge) { ctx.strokeStyle = it.edge; ctx.strokeRect(hx, cy - 4.5, handle, 8); }
        } else if (it.kind === 'line') {
          ctx.strokeStyle = it.color;
          ctx.lineWidth = 1.5;
          ctx.beginPath();
          ctx.moveTo(hx, cy);
          ctx.lineTo(hx + handle, cy);
          ctx.stroke();
        } else if (it.kind === 'star') {
          ctx.drawImage(starImage, mid - 13, cy - 13);
        } else {
          ctx.beginPath();
          ctx.arc(mid, cy, it.r, 0, Math.PI * 2);
          ctx.fillStyle = it.color;
          ctx.fill();
          if (it.edge) { ctx.strokeStyle = it.edge; ctx.lineWidth = 1.3; ctx.stroke(); }
        }
        ctx.fillStyle = '#000';
        ctx.textAlign = 'left';
        ctx.textBaseline = 'middle';
        ctx.fillText(it.label, hx + handle + gap, cy);
      });
      ctx.restore();
    }
  };
}

function tickText(v) {
  return String(v).replace('-', '\u2212');
}

function numAxis(min, max, ticks, title, gutter, titlePad, isX) {
  return {
    type: 'linear',
    min: min,
    max: max,
    offset: false,
    afterBuildTicks: s => { s.ticks = ticks.map(v => ({ value: v })); },
    afterFit: s => {
      if (s.isHorizontal()) s.height = gutter; else s.width = gutter;
      // the frame is fixed, labels may overhang it
      s.paddingLeft = s.paddingRight = s.paddingTop = s.paddingBottom = 0;
    },
    ticks: { callback: tickText, padding: 3, autoSkip: false, maxRotation: 0, minRotation: 0, labelOffset: isX ? 0 : 2 },
    grid: { color: GRID_COLOR, tickColor: '#000', tickLength: 5, offset: false },
    border: { display: false },
    title: { display: !!title, text: title, padding: titlePad, font: { size: 13.89 } },
  };
}

function dateAxis(min, max, title, gutter, titlePad) {
  const axis = numAxis(min, max, dateTicks, title, gutter, titlePad, true);
  axis.ticks = {
    callback: v => dateLabels[dateTicks.indexOf(v)],
    padding: 12.5, autoSkip: false, maxRotation: 20, minRotation: 20, labelOffset: 29,
  };
  return axis;
}

function baseOptions(title, rightPad, titleTop, scales) {
  return {
    responsive: false,
    animation: false,
    devicePixelRatio: 1,
    events: [],
    layout: { padding: { right: rightPad } },
    plugins: {
      legend: { display: false },
      tooltip: { enabled: false },
      title: {
        display: true, text: title, fullSize: false, color: '#000',
        font: { size: 16.67, weight: 'normal' },
        padding: { top: titleTop, bottom: 11.5 - titleTop },
      },
    },
    scales: scales,
  };
}

function toPoints(xs, ys) {
  return xs.map((x, i) => ({ x: x, y: ys[i] }));
}

function lonLatPoints(path) {
  return path.map(p => ({ x: p[0], y: p[1] }));
}

function createTrackChart(ctx) {
  const polygon = (path, color, edge, order) => ({
    data: lonLatPoints(path), showLine: true, fill: 'shape', backgroundColor: color,
    borderColor: edge, borderWidth: 0.8, pointRadius: 0, order: order,
  });
  const datasets = [
    ...landPolygons.map(p => polygon(p, LAND, 'rgba(160,165,165,0.65)', 30)),
    ...waterPolygons.map(p => polygon(p, OCEAN, 'rgba(160,165,165,0.55)', 25)),
    ...borderLines.map(p => ({
      data: lonLatPoints(p), showLine: true, fill: false, borderColor: 'rgba(170,170,165,0.35)',
      borderWidth: 0.7, pointRadius: 0, order: 20,
    })),
    { label: 'Track', data: toPoints(obsLon, obsLat), backgroundColor: '#c0392b', borderWidth: 0, pointRadius: 3, order: 3 },
    { label: 'Launch', data: [{ x: launchPoint[0], y: launchPoint[1] }], backgroundColor: '#27ae60', borderColor: '#000', borderWidth: 1.3, pointRadius: 8.3, order: 2 },
    { label: 'Last fix', data: [{ x: lastFixPoint[0], y: lastFixPoint[1] }], pointStyle: starImage, pointRadius: 10, order: 1 },
  ];
  const lonAxis = numAxis(-180, 180, lonTicks, 'Longitude (deg)', 49.5, { bottom: 3.7 }, true);
  lonAxis.grid.z = 1;
  lonAxis.grid.color = MAP_GRID_COLOR;
  lonAxis.border.dash = [2, 2];
  const latAxis = numAxis(-90, 90, latTicks, 'Latitude (deg)', 83, { top: 23.5 });
  latAxis.grid.z = 1;
  latAxis.grid.color = MAP_GRID_COLOR;
  latAxis.border.dash = [2, 2];
  new Chart(ctx, {
    type: 'scatter',
    data: { datasets: datasets },
    options: baseOptions('Flight Track', 11.5, 10, { x: lonAxis, y: latAxis }),
    plugins: [framePlugin(OCEAN), legendPlugin([
      { kind: 'dot', label: 'Track', color: '#c0392b', r: 2 },
      { kind: 'dot', label: 'Launch', color: '#27ae60', edge: '#000', r: 8.3 },
      { kind: 'star', label: 'Last fix' },
    ], 'll')],
  });
}

function createWindChart(ctx) {
  new Chart(ctx, {
    type: 'scatter',
    data: {
      datasets: [
        { label: 'Daily mean', data: toPoints(dailyDays, dailyWind), showLine: true, borderColor: '#c0392b', borderWidth: 1.6, pointRadius: 0, order: 1 },
        { label: 'Wind speed', data: toPoints(obsDays, obsWind), backgroundColor: '#2c3e50', borderWidth: 0, pointRadius: 2.6, order: 2 },
        { label: 'band high', data: toPoints(bandDays, bandHigh), showLine: true, borderWidth: 0, pointRadius: 0, fill: '+1', backgroundColor: 'rgba(127,140,141,0.35)', order: 3 },
        { label: 'band low', data: toPoints(bandDays, bandLow), showLine: true, borderWidth: 0, pointRadius: 0, order: 4 },
      ]
    },
    options: baseOptions('Wind Speed vs. Time', 11.5, 10, {
      x: dateAxis(-1.34, 27.9, '', 49.5, {}),
      y: numAxis(0, 90.1, windTicks, 'Wind speed (m s\u207B\u00B9)', 83, { top: 29 }),
    }),
    plugins: [framePlugin(), legendPlugin([
      { kind: 'rect', label: '\u00B11\u03C3 propagated error', color: 'rgba(127,140,141,0.35)' },
      { kind: 'dot', label: 'Wind speed', color: '#2c3e50', r: 1.8 },
      { kind: 'line', label: 'Daily mean', color: '#c0392b' },
    ], 'ur')],
  });
}

function createLatChart(ctx) {
  new Chart(ctx, {
    type: 'scatter',
    data: { datasets: [{ label: 'Latitude', data: toPoints(obsDays, obsLat), backgroundColor: '#000', borderWidth: 0, pointRadius: 3 }] },
    options: baseOptions('Latitude vs. Time', 22, 10, {
      x: dateAxis(-0.63, 27.85, '', 49.5, {}),
      y: numAxis(-90, 90, latTicks, 'Latitude (deg)', 62.4, { top: 2 }),
    }),
    plugins: [framePlugin()],
  });
}

function createAltChart(ctx) {
  const altPoints = altDays.flatMap((days, b) => toPoints(days, altValues[b]));
  new Chart(ctx, {
    type: 'scatter',
    data: {
      datasets: [
        { label: 'Daily mean', data: toPoints(dailyDays, dailyAlt), showLine: true, borderColor: '#c0392b', borderWidth: 2, pointRadius: 0, order: 1 },
        { label: 'Altitude', data: altPoints, backgroundColor: '#7f8c8d', borderWidth: 0, pointRadius: 2.2, order: 2 },
      ]
    },
    options: baseOptions('Balloon Altitude vs. Time', 11.5, 11, {
      x: dateAxis(-1.34, 27.9, 'UTC date', 73.2, { bottom: 8 }),
      y: numAxis(10821, 12057, altTicks, 'Altitude (m AMSL)', 83, { top: 8 }),
    }),
    plugins: [framePlugin()],
  });
}

function createHistChart(ctx) {
  const barBase = { barPercentage: 1, categoryPercentage: 1, grouped: false, borderWidth: 1, borderColor: 'rgba(0,0,0,0.65)', borderSkipped: false };
  const centers = histEdges.map(e => e + 2.5);
  new Chart(ctx, {
    type: 'bar',
    data: {
      datasets: [
        Object.assign({ label: 'U (zonal)', data: toPoints(centers, histU), backgroundColor: 'rgba(31,119,180,0.65)', order: 2 }, barBase),
        Object.assign({ label: 'V (meridional)', data: toPoints(centers, histV), backgroundColor: 'rgba(255,127,14,0.65)', order: 1 }, barBase),
      ]
    },
    options: baseOptions('U and V Wind Components', 22, 11, {
      x: numAxis(-100, 100, histXTicks, 'Wind speed (m s\u207B\u00B9)', 73.2, { bottom: 25 }, true),
      y: numAxis(0, 220.3, histYTicks, 'Frequency', 62.4, { top: 5 }),
    }),
    plugins: [framePlugin(), legendPlugin([
      { kind: 'rect', label: 'U (zonal)', color: 'rgba(31,119,180,0.65)', edge: 'rgba(0,0,0,0.65)' },
      { kind: 'rect', label: 'V (meridional)', color: 'rgba(255,127,14,0.65)', edge: 'rgba(0,0,0,0.65)' },
    ], 'ur')],
  });
}

function createInfoPanel() {
  const page = document.getElementById('page');
  infoLines.forEach((text, i) => {
    const el = document.createElement('div');
    el.className = 'info';
    el.textContent = text;
    el.style.left = infoLeft[i] + 'px';
    el.style.top = infoY[i] + 'px';
    el.style.fontSize = infoSize[i] + 'px';
    el.style.color = infoColor[i];
    page.appendChild(el);
  });
}

createInfoPanel();
createTrackChart(document.getElementById('trackChart').getContext('2d'));
createWindChart(document.getElementById('windChart').getContext('2d'));
createLatChart(document.getElementById('latChart').getContext('2d'));
createAltChart(document.getElementById('altChart').getContext('2d'));
createHistChart(document.getElementById('histChart').getContext('2d'));
</script>
</body>
</html>
